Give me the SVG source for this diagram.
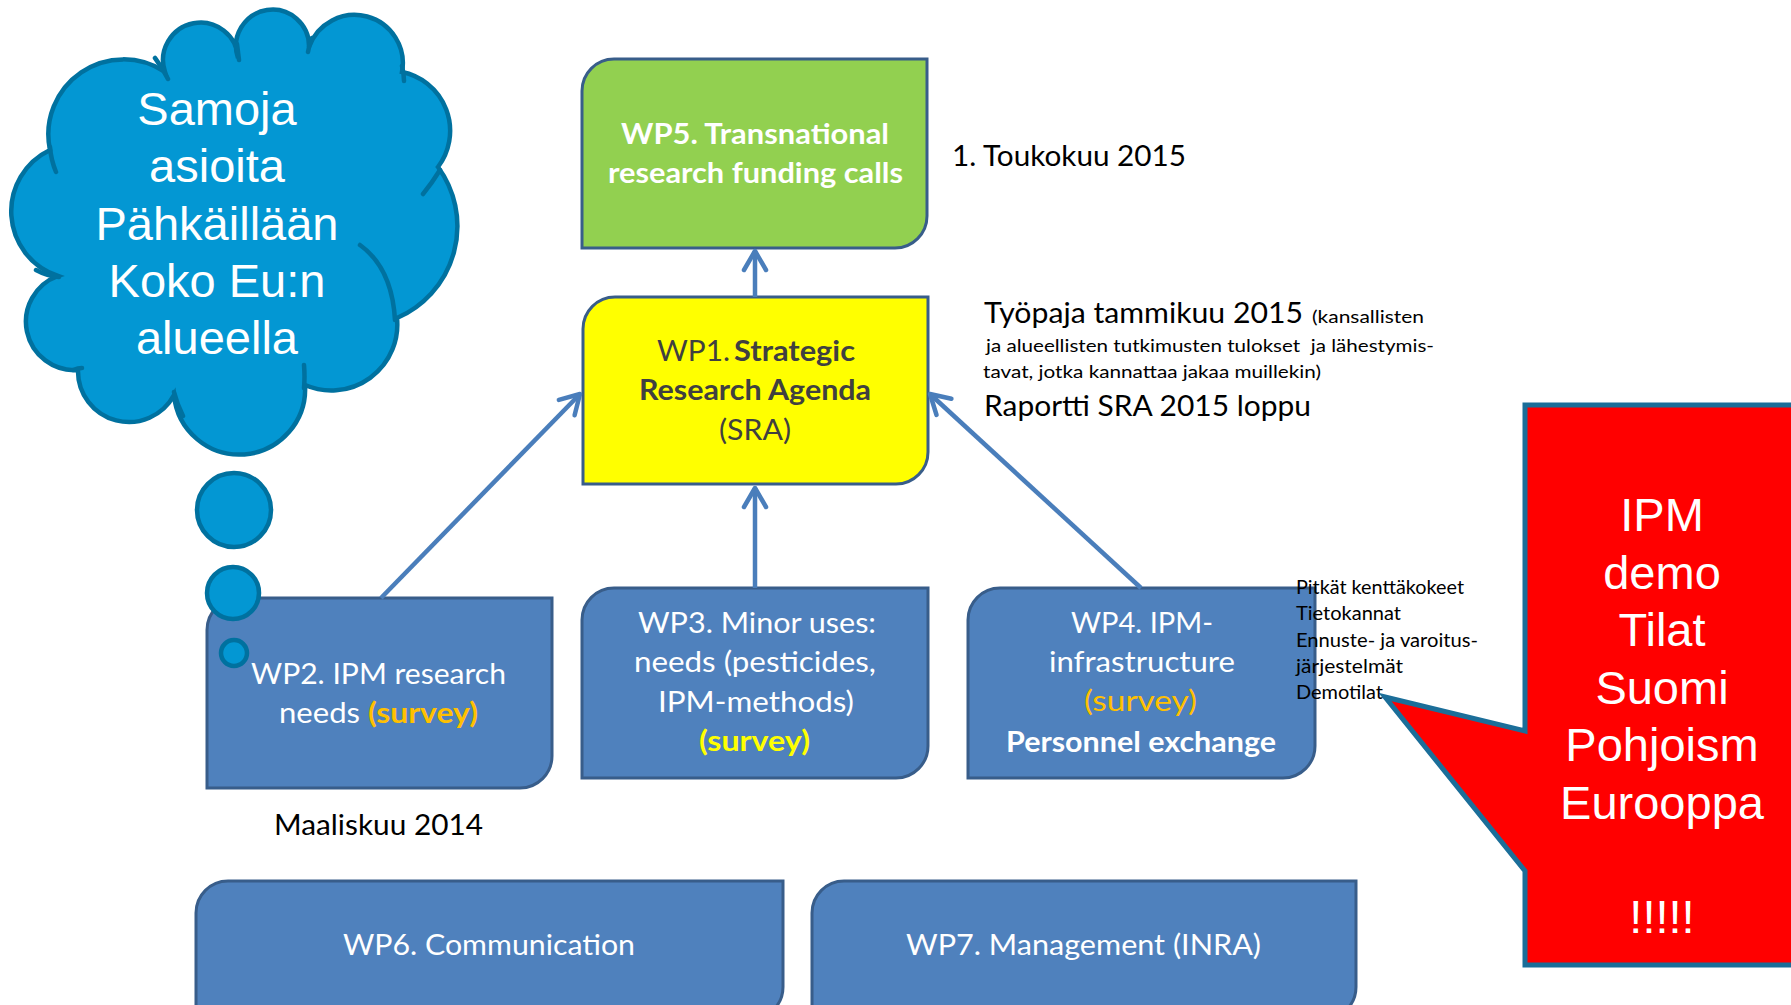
<svg xmlns="http://www.w3.org/2000/svg" width="1791" height="1005" viewBox="0 0 1791 1005">
  <defs>
    <style>
      .box { fill: #4F81BD; stroke: #385D8A; stroke-width: 3; }
      .cloud { fill: #0397D3; stroke: #00719F; stroke-width: 4.5; }
      .stub { fill: none; stroke: #00719F; stroke-width: 4.5; stroke-linecap: round; }
      .t { font-family: Lato, "Liberation Sans", sans-serif; }
      .w { fill: #FFFFFF; font-size: 28px; }
      .b { font-weight: 700; }
      .dk { fill: #404040; font-size: 29px; }
      .blk { fill: #000000; }
      .big { font-family: "Liberation Sans", Arial, sans-serif; font-size: 47px; fill: #FFFFFF; text-anchor: middle; }
      .conn { fill: none; stroke: #4A7EBB; stroke-width: 4.5; }
    </style>
    <marker id="openArrow" viewBox="-26 -15 30 30" refX="0" refY="0" markerWidth="30" markerHeight="30" markerUnits="userSpaceOnUse" orient="auto">
      <path d="M-19,-11 L0,0 L-19,11" fill="none" stroke="#4A7EBB" stroke-width="4.5" stroke-linecap="round" stroke-linejoin="round"/>
    </marker>
  </defs>

  <rect width="1791" height="1005" fill="#FFFFFF"/>

  <!-- Thought cloud -->
  <g id="cloud">
    <path class="cloud" d="M50,150 A75 75 0 0 1 165,72 A37.5 37.5 0 1 1 238,58 A36.5 36.5 0 1 1 309,47 A48.3 48.3 0 0 1 402,72 A60 60 0 0 1 438,167 A100 100 0 0 1 397,318 A66 66 0 0 1 305,385 A65.7 65.7 0 0 1 174,395 A51 51 0 0 1 78,370 A48.5 48.5 0 0 1 58,276 A68 68 0 0 1 50,150 Z"/>
    <path class="stub" d="M50,147 Q51,160 56,172 M155,58 Q162,67 168,79 M237,44 Q238,52 239,60 M308,52 Q309,45 312,38 M402,66 Q404,73 404,81 M423,194 Q432,183 440,170 M360,245 Q392,268 395,320 M304,365 Q305,377 304,388 M174,392 Q177,404 183,416 M73,370 Q78,368 82,368 M36,270 Q47,276 59,277"/>
    <text class="big" x="217" y="125">Samoja</text>
    <text class="big" x="217" y="182">asioita</text>
    <text class="big" x="217" y="240">Pähkäillään</text>
    <text class="big" x="217" y="297">Koko Eu:n</text>
    <text class="big" x="217" y="354">alueella</text>
  </g>

  <!-- Work packages -->
  <g id="wp5">
    <path d="M614,59 H927 V216 A32 32 0 0 1 895,248 H582 V91 A32 32 0 0 1 614,59 Z" fill="#92D050" stroke="#385D8A" stroke-width="3"/>
    <text class="t w b" font-size="27" x="621" y="144" textLength="268" lengthAdjust="spacingAndGlyphs">WP5. Transnational</text>
    <text class="t w b" font-size="27" x="608" y="183" textLength="295" lengthAdjust="spacingAndGlyphs">research funding calls</text>
  </g>

  <g id="wp1">
    <path d="M615,297 H928 V452 A32 32 0 0 1 896,484 H583 V329 A32 32 0 0 1 615,297 Z" fill="#FFFF00" stroke="#385D8A" stroke-width="3"/>
    <text class="t dk" x="657" y="361" textLength="73" lengthAdjust="spacingAndGlyphs">WP1.</text>
    <text class="t dk b" x="734" y="361" textLength="121" lengthAdjust="spacingAndGlyphs">Strategic</text>
    <text class="t dk b" x="639" y="400" textLength="232" lengthAdjust="spacingAndGlyphs">Research Agenda</text>
    <text class="t dk" x="719" y="440" textLength="72" lengthAdjust="spacingAndGlyphs">(SRA)</text>
  </g>

  <g id="wp2">
    <path class="box" d="M239,598 H552 V756 A32 32 0 0 1 520,788 H207 V630 A32 32 0 0 1 239,598 Z"/>
    <text class="t w" x="251" y="684" textLength="255" lengthAdjust="spacingAndGlyphs">WP2. IPM research</text>
    <text class="t w" x="279" y="723" textLength="81" lengthAdjust="spacingAndGlyphs">needs</text>
    <text class="t w b" x="368" y="723" style="fill:#FFC000" textLength="110" lengthAdjust="spacingAndGlyphs">(survey)</text>
  </g>

  <g id="wp3">
    <path class="box" d="M614,588 H928 V746 A32 32 0 0 1 896,778 H582 V620 A32 32 0 0 1 614,588 Z"/>
    <text class="t w" x="638" y="633" textLength="238" lengthAdjust="spacingAndGlyphs">WP3. Minor uses:</text>
    <text class="t w" x="634" y="672" textLength="242" lengthAdjust="spacingAndGlyphs">needs (pesticides,</text>
    <text class="t w" x="658" y="712" textLength="196" lengthAdjust="spacingAndGlyphs">IPM-methods)</text>
    <text class="t w b" x="699" y="751" style="fill:#FFFF00" textLength="111" lengthAdjust="spacingAndGlyphs">(survey)</text>
  </g>

  <g id="wp4">
    <path class="box" d="M1000,588 H1315 V746 A32 32 0 0 1 1283,778 H968 V620 A32 32 0 0 1 1000,588 Z"/>
    <text class="t w" x="1071" y="633" textLength="142" lengthAdjust="spacingAndGlyphs">WP4. IPM-</text>
    <text class="t w" x="1049" y="672" textLength="186" lengthAdjust="spacingAndGlyphs">infrastructure</text>
    <text class="t w" x="1084" y="711" style="fill:#FFC000" textLength="113" lengthAdjust="spacingAndGlyphs">(survey)</text>
    <text class="t w b" x="1006" y="752" textLength="270" lengthAdjust="spacingAndGlyphs">Personnel exchange</text>
  </g>

  <g id="wp6">
    <path class="box" d="M228,881 H783 V987 A32 32 0 0 1 751,1019 H196 V913 A32 32 0 0 1 228,881 Z"/>
    <text class="t w" x="343" y="955" textLength="292" lengthAdjust="spacingAndGlyphs">WP6. Communication</text>
  </g>

  <g id="wp7">
    <path class="box" d="M844,881 H1356 V987 A32 32 0 0 1 1324,1019 H812 V913 A32 32 0 0 1 844,881 Z"/>
    <text class="t w" x="906" y="955" textLength="355" lengthAdjust="spacingAndGlyphs">WP7. Management (INRA)</text>
  </g>

  <!-- Thought bubbles trailing from the cloud -->
  <g id="bubbles">
    <circle class="cloud" cx="234" cy="510" r="37"/>
    <circle class="cloud" cx="233" cy="593" r="26"/>
    <circle class="cloud" cx="234" cy="653" r="13"/>
  </g>

  <!-- Connectors -->
  <g id="connectors">
    <path class="conn" d="M755,297 L755,251" marker-end="url(#openArrow)"/>
    <path class="conn" d="M755,588 L755,488" marker-end="url(#openArrow)"/>
    <path class="conn" d="M381,598 L580,394" marker-end="url(#openArrow)"/>
    <path class="conn" d="M1141,588 L930,394" marker-end="url(#openArrow)"/>
  </g>

  <!-- Side notes -->
  <g id="notes">
    <text class="t blk" font-size="28" x="952" y="166" textLength="234" lengthAdjust="spacingAndGlyphs">1. Toukokuu 2015</text>
    <text class="t blk" font-size="28" x="984" y="323" textLength="319" lengthAdjust="spacingAndGlyphs">Työpaja tammikuu 2015</text>
    <text class="t blk" font-size="17.5" x="1312" y="323" textLength="112" lengthAdjust="spacingAndGlyphs">(kansallisten</text>
    <text class="t blk" font-size="17.5" x="986" y="352" style="white-space:pre" textLength="448" lengthAdjust="spacingAndGlyphs">ja alueellisten tutkimusten tulokset  ja lähestymis-</text>
    <text class="t blk" font-size="17.5" x="983" y="378" textLength="338" lengthAdjust="spacingAndGlyphs">tavat, jotka kannattaa jakaa muillekin)</text>
    <text class="t blk" font-size="28" x="984" y="416" textLength="327" lengthAdjust="spacingAndGlyphs">Raportti SRA 2015 loppu</text>
    <text class="t blk" font-size="28" x="274" y="835" textLength="209" lengthAdjust="spacingAndGlyphs">Maaliskuu 2014</text>
  </g>

  <!-- Red callout -->
  <g id="callout">
    <path d="M1525,405 H1800 V965 H1525 V871 L1385,697 L1525,731 Z" fill="#FF0000" stroke="#1B6E99" stroke-width="5" stroke-linejoin="miter"/>
    <text class="big" x="1662" y="531">IPM</text>
    <text class="big" x="1662" y="589">demo</text>
    <text class="big" x="1662" y="646">Tilat</text>
    <text class="big" x="1662" y="704">Suomi</text>
    <text class="big" x="1662" y="761">Pohjoism</text>
    <text class="big" x="1662" y="819">Eurooppa</text>
    <text class="big" x="1662" y="933">!!!!!</text>
  </g>

  <g id="wp4-notes">
    <text class="t blk" font-size="18.5" x="1296" y="594" textLength="168" lengthAdjust="spacingAndGlyphs">Pitkät kenttäkokeet</text>
    <text class="t blk" font-size="18.5" x="1296" y="620" textLength="105" lengthAdjust="spacingAndGlyphs">Tietokannat</text>
    <text class="t blk" font-size="18.5" x="1296" y="647" textLength="182" lengthAdjust="spacingAndGlyphs">Ennuste- ja varoitus-</text>
    <text class="t blk" font-size="18.5" x="1296" y="673" textLength="107" lengthAdjust="spacingAndGlyphs">järjestelmät</text>
    <text class="t blk" font-size="18.5" x="1296" y="699" textLength="87" lengthAdjust="spacingAndGlyphs">Demotilat</text>
  </g>
</svg>
